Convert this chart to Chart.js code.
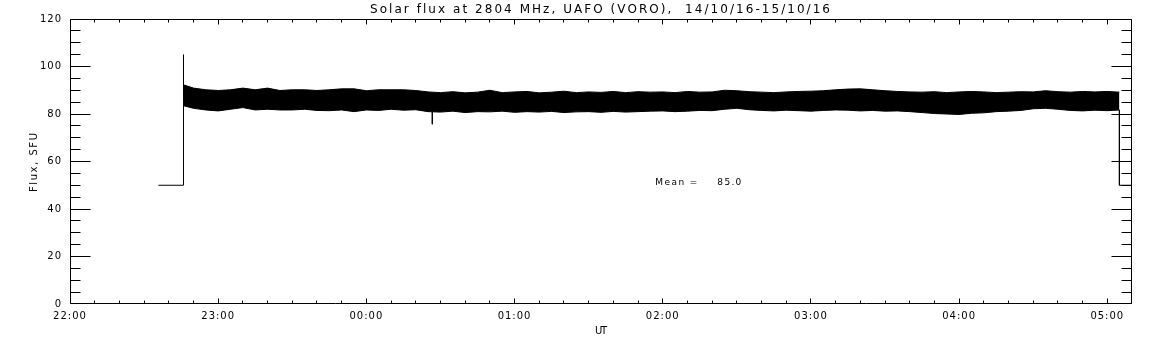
<!DOCTYPE html>
<html><head><meta charset="utf-8">
<script src="https://cdn.jsdelivr.net/npm/chart.js@4.4.1/dist/chart.umd.min.js"></script>
<style>html,body{margin:0;padding:0;background:#fff;}canvas{display:block;}</style>
</head><body>
<canvas id="c" width="1152" height="345"></canvas>
<script>
// ---- text ----
const chartTitle = 'Solar flux at 2804 MHz, UAFO (VORO),  14/10/16-15/10/16';
const xAxisTitle = 'UT';
const yAxisTitle = 'Flux, SFU';
const meanLabel = 'Mean =';
const meanValue = '85.0';
// ---- tick labels ----
const xTickLabels = ['22:00','23:00','00:00','01:00','02:00','03:00','04:00','05:00'];
const yTickLabels = ['0','20','40','60','80','100','120'];
// ---- data (x = minutes after 22:00 UT, y = flux SFU) ----
const bandTimes = [45.9,50,55,60,65,70,75,80,85,90,95,100,105,110,115,120,125,130,135,140,
  145,150,155,160,165,170,175,180,185,190,195,200,205,210,215,220,225,230,235,
  240,245,250,255,260,265,270,275,280,285,290,295,300,305,310,315,320,325,330,
  335,340,345,350,355,360,365,370,375,380,385,390,395,400,405,410,415,420,424.9];
const bandUpper = [92.3,90.9,90.2,89.9,90.2,90.9,90.2,90.9,89.9,90.2,90.2,89.9,90.2,90.6,90.6,89.8,90.2,90.2,90.2,89.9,
  89.3,89.0,89.4,88.9,89.2,90.0,89.0,89.3,89.5,88.9,89.2,89.6,89.0,89.3,89.1,89.5,89.0,89.4,89.2,
  89.3,89.0,89.5,89.2,89.3,90.0,89.8,89.4,89.2,89.0,89.3,89.5,89.6,89.8,90.2,90.5,90.6,90.2,89.8,
  89.5,89.3,89.2,89.4,89.0,89.3,89.5,89.3,89.0,89.2,89.4,89.3,89.8,89.4,89.2,89.5,89.3,89.5,89.2];
const bandLower = [83.5,82.4,81.7,81.3,82.0,82.7,81.7,82.0,81.7,81.7,82.0,81.5,81.4,81.7,81.0,81.7,81.5,82.0,81.6,81.8,
  81.0,80.8,81.2,80.6,81.0,80.9,81.2,80.7,81.0,80.8,81.1,80.6,80.9,81.0,80.7,81.1,80.8,81.0,81.2,
  81.3,81.0,81.2,81.5,81.4,82.0,82.4,81.8,81.5,81.3,81.6,81.4,81.2,81.5,81.7,81.6,81.3,81.5,81.2,
  81.3,81.0,80.6,80.2,80.0,79.8,80.3,80.5,81.0,81.2,81.5,82.2,82.4,82.0,81.5,81.3,81.6,81.4,81.7];
const preTimes = [35.8, 45.9, 45.9, 46.0];
const preFlux  = [50, 50, 105, 88];
const postTimes = [424.9, 424.9, 440];
const postFlux  = [81.7, 50, 50];
const dipTimes = [146.7, 146.7];
const dipFlux  = [81.0, 75.7];
const meanTime = 237;
const meanFlux = 50;
const xMax = 430;

function pts(xs, ys){ return xs.map((t,i)=>({x:t, y:ys[i]})); }

function spacedText(ctx, text, x, y, target){
  ctx.letterSpacing = '0px';
  const w = ctx.measureText(text).width;
  if ('letterSpacing' in ctx && text.length > 1){
    const sp = (target - w) / (text.length - 1);
    ctx.letterSpacing = sp + 'px';
    ctx.textAlign = 'left';
    ctx.fillText(text, x, y);
    ctx.letterSpacing = '0px';
  } else {
    ctx.save(); ctx.translate(x, y); ctx.scale(target / w, 1);
    ctx.textAlign = 'left'; ctx.fillText(text, 0, 0); ctx.restore();
  }
}

const framePlugin = {
  id: 'frame',
  beforeDraw(chart){ const c = chart.ctx; if ('letterSpacing' in c) c.letterSpacing = '1px'; },
  beforeDatasetsDraw(chart){ const c = chart.ctx; if ('letterSpacing' in c) c.letterSpacing = '0px'; },
  afterDraw(chart){
    const ctx = chart.ctx, a = chart.chartArea, xs = chart.scales.x, ys = chart.scales.y;
    const L = Math.floor(a.left) + 0.5, R = Math.ceil(a.right) - 0.5;
    const T = Math.floor(a.top) + 0.5, B = Math.ceil(a.bottom) - 0.5;
    ctx.save();
    ctx.strokeStyle = '#000'; ctx.lineWidth = 1;
    ctx.beginPath();
    ctx.rect(L, T, R - L, B - T);
    // x ticks every 10 min, major each hour
    for (let m = 0; m <= xMax; m += 10){
      const p = xs.getPixelForValue(m);
      const col = Math.min(Math.floor(p), Math.ceil(a.right) - 1) + 0.5;
      const len = (m % 60 === 0) ? 5 : 3;
      ctx.moveTo(col, B); ctx.lineTo(col, B - len);
      ctx.moveTo(col, T); ctx.lineTo(col, T + len);
    }
    // y ticks every 5, major every 20
    for (let v = 0; v <= 120; v += 5){
      const p = ys.getPixelForValue(v);
      const row = Math.min(Math.floor(p), Math.ceil(a.bottom) - 1) + 0.5;
      const len = (v % 20 === 0) ? 20 : 10;
      ctx.moveTo(L, row); ctx.lineTo(L + len, row);
      ctx.moveTo(R, row); ctx.lineTo(R - len, row);
    }
    ctx.stroke();
    // texts
    ctx.fillStyle = '#000';
    ctx.textBaseline = 'alphabetic';
    ctx.font = '12px "DejaVu Sans"';
    spacedText(ctx, chartTitle, 370, 13, 460);
    ctx.font = '10px "DejaVu Sans"';
    spacedText(ctx, xAxisTitle, 595, 334, 12);
    ctx.save();
    ctx.translate(37, 192); ctx.rotate(-Math.PI/2);
    spacedText(ctx, yAxisTitle, 0, 0, 59);
    ctx.restore();
    ctx.font = '9px "DejaVu Sans"';
    const mx = xs.getPixelForValue(meanTime), my = ys.getPixelForValue(meanFlux);
    spacedText(ctx, meanLabel, mx, my, 42);
    spacedText(ctx, meanValue, mx + 62, my, 24);
    ctx.restore();
  }
};

const lineStyle = {borderColor:'#000', borderWidth:1, pointRadius:0, tension:0, fill:false};

new Chart(document.getElementById('c'), {
  type: 'line',
  data: { datasets: [
    Object.assign({}, lineStyle, {label:'upper', data: pts(bandTimes, bandUpper), fill:'+1', backgroundColor:'#000'}),
    Object.assign({}, lineStyle, {label:'lower', data: pts(bandTimes, bandLower)}),
    Object.assign({}, lineStyle, {label:'pre', data: pts(preTimes, preFlux)}),
    Object.assign({}, lineStyle, {label:'post', data: pts(postTimes, postFlux)}),
    Object.assign({}, lineStyle, {label:'dip', data: pts(dipTimes, dipFlux)})
  ]},
  options: {
    responsive: false, animation: false, devicePixelRatio: 1,
    layout: { padding: { top: 19, right: 20, left: 0, bottom: 0 } },
    plugins: { legend: {display:false}, tooltip: {enabled:false}, title: {display:false} },
    scales: {
      x: {
        type: 'linear', position: 'bottom', min: 0, max: xMax,
        afterFit(s){ s.height = 41; },
        grid: { display:false, drawTicks:false }, border: { display:false },
        ticks: { stepSize: 60, includeBounds: false, autoSkip: false, maxRotation: 0, padding: 6,
          color:'#000', font:{ family:'DejaVu Sans', size:10 },
          callback: v => xTickLabels[Math.round(v/60)] }
      },
      y: {
        type: 'linear', position: 'left', min: 0, max: 120,
        afterFit(s){ s.width = 70; },
        grid: { display:false, drawTicks:false }, border: { display:false },
        ticks: { stepSize: 20, includeBounds: false, padding: 8,
          color:'#000', font:{ family:'DejaVu Sans', size:10 },
          callback: v => yTickLabels[Math.round(v/20)] }
      }
    }
  },
  plugins: [framePlugin]
});
</script>
</body></html>
